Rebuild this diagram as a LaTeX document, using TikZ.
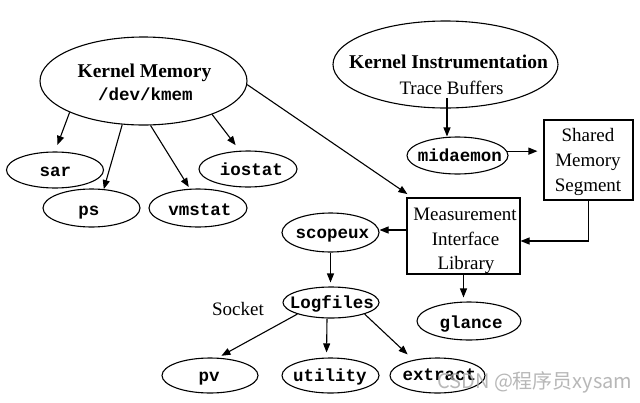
\documentclass[tikz,border=0pt]{standalone}
\usepackage{fontspec}
\setmainfont{Liberation Serif}
\newfontfamily\monof{Liberation Mono}
\newfontfamily\cjkf{Noto Sans CJK SC}
\usetikzlibrary{arrows.meta,shapes.geometric,calc}
\begin{document}
\begin{tikzpicture}[x=1pt,y=-1pt,
  oval/.style={draw,ellipse,line width=1.1pt,inner sep=0pt},
  boxn/.style={draw,rectangle,line width=1.1pt,inner sep=0pt},
  prog/.style={font=\monof\bfseries\fontsize{17.5}{20}\selectfont,inner sep=0pt,anchor=base},
  head/.style={font=\bfseries\fontsize{19.5}{22}\selectfont,inner sep=0pt,anchor=base},
  txt/.style={font=\fontsize{19}{22}\selectfont,inner sep=0pt,anchor=base},
  arr/.style={line width=1.1pt,-{Triangle[length=9pt,width=7pt]}}]
\useasboundingbox[fill=white] (0,0) rectangle (640,402);

% ellipses
\node[oval,minimum width=207pt,minimum height=88pt] (km) at (143.5,81) {};
\node[oval,minimum width=225pt,minimum height=87pt] (ki) at (445.5,64.5) {};
\node[oval,minimum width=97pt,minimum height=36pt] (sar) at (55,170) {};
\node[oval,minimum width=97pt,minimum height=38pt] (ps) at (91.5,208) {};
\node[oval,minimum width=98pt,minimum height=38pt] (vm) at (198,208) {};
\node[oval,minimum width=98pt,minimum height=36pt] (io) at (248,169) {};
\node[oval,minimum width=101pt,minimum height=37pt] (mid) at (457.5,155.5) {};
\node[oval,minimum width=97pt,minimum height=39pt] (sco) at (330.5,232.5) {};
\node[oval,minimum width=96pt,minimum height=31pt] (log) at (331,302.5) {};
\node[oval,minimum width=96pt,minimum height=35pt] (pv) at (210,375.5) {};
\node[oval,minimum width=97pt,minimum height=35pt] (ut) at (330.5,375.5) {};
\node[oval,minimum width=95pt,minimum height=35pt] (ex) at (437.5,375.5) {};
\node[oval,minimum width=104pt,minimum height=38pt] (gl) at (469,321) {};

% boxes
\node[boxn,minimum width=89pt,minimum height=80pt] (sms) at (588.5,160) {};
\node[boxn,minimum width=113pt,minimum height=76pt] (mil) at (463.5,236) {};

% texts
\node[head] (kmt) at (144.5,77) {Kernel Memory};
\node[prog] (kmp) at (145.5,100) {/dev/kmem};
\node[head] (kit) at (448.5,68) {Kernel Instrumentation};
\node[txt] (tb) at (451.5,94) {Trace Buffers};
\node[prog] (midt) at (460,161) {midaemon};
\node[txt] (sms1) at (588,141.7) {Shared};
\node[txt] (sms2) at (588,166.7) {Memory};
\node[txt] (sms3) at (588,191.5) {Segment};
\node[txt] (mil1) at (465,220) {Measurement};
\node[txt] (mil2) at (465.5,245) {Interface};
\node[txt] (mil3) at (466,269.5) {Library};
\node[prog] (sart) at (55.5,176.5) {sar};
\node[prog] (pst) at (89,215.5) {ps};
\node[prog] (vmt) at (200,215.5) {vmstat};
\node[prog] (iot) at (251.5,175) {iostat};
\node[prog] (scot) at (332.5,238) {scopeux};
\node[prog] (logt) at (332,308) {Logfiles};
\node[txt] (sock) at (238,315) {Socket};
\node[prog] (pvt) at (209,381.5) {pv};
\node[prog] (utt) at (330,381.5) {utility};
\node[prog] (ext) at (439.5,380.5) {extract};
\node[prog] (glt) at (471,328) {glance};

% arrows
\draw[arr,shorten >=7pt] (km.203) -- (sar.north);
\draw[arr] (km.244) -- (ps.57);
\draw[arr,shorten >=2pt] (km.279) -- (vm.113);
\draw[arr,shorten >=7pt] (km.334) -- (io.114);
\draw[arr,shorten >=6pt] (km.358) -- (mil.143);
\draw[arr,shorten <=4pt] ([xshift=-4.5pt]tb.south) -- ([xshift=-4.5pt]tb.south |- mid.north);
\draw[arr,shorten >=6pt] (mid.5) -- (mid.5 -| sms.west);
\draw[arr] (sms.south) |- ([yshift=-5pt]mil.east);
\draw[arr] ([yshift=6pt]mil.west) -- ([yshift=6pt]mil.west -| sco.east);
\draw[arr,shorten >=4pt] (sco.south) -- (sco.south |- log.north);
\draw[arr,shorten >=4pt] (mil.south) -- (mil.south |- gl.north);
\draw[arr,shorten >=4pt] (log.199) -- (pv.66);
\draw[arr,shorten >=5pt] ([xshift=-4pt]log.south) -- ([xshift=-4pt]ut.north);
\draw[arr,shorten >=8pt] (log.341) -- (ex.147);

% watermark
\node[font=\cjkf\fontsize{20}{22}\selectfont,text=black!35,opacity=0.8,inner sep=0pt,anchor=base west] (wm) at (437,388) {CSDN @程序员xysam};
\end{tikzpicture}
\end{document}
